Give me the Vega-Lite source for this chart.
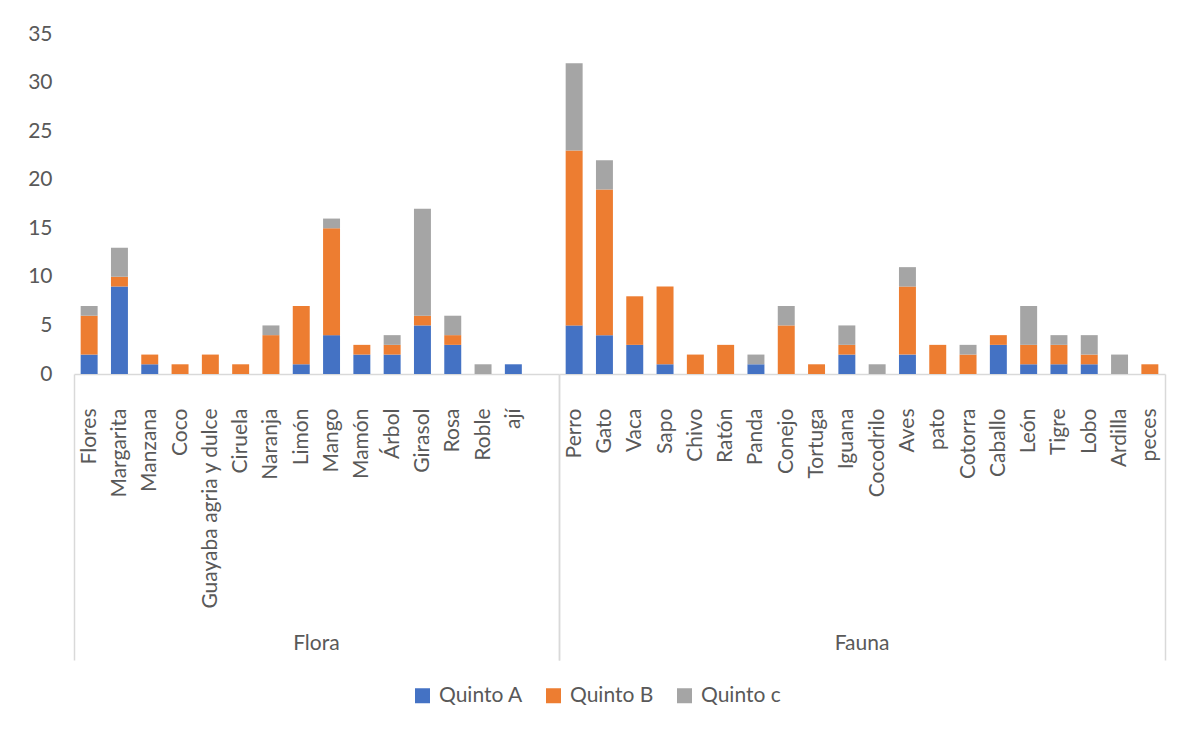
{
  "$schema": "https://vega.github.io/schema/vega-lite/v6.json",
  "background": "white",
  "padding": {"left": 27, "top": 23, "right": 30, "bottom": 10},
  "data": {
    "values": [
      {"group": "Flora", "item": "Flores", "series": "Quinto A", "count": 2},
      {"group": "Flora", "item": "Flores", "series": "Quinto B", "count": 4},
      {"group": "Flora", "item": "Flores", "series": "Quinto c", "count": 1},
      {"group": "Flora", "item": "Margarita", "series": "Quinto A", "count": 9},
      {"group": "Flora", "item": "Margarita", "series": "Quinto B", "count": 1},
      {"group": "Flora", "item": "Margarita", "series": "Quinto c", "count": 3},
      {"group": "Flora", "item": "Manzana", "series": "Quinto A", "count": 1},
      {"group": "Flora", "item": "Manzana", "series": "Quinto B", "count": 1},
      {"group": "Flora", "item": "Coco", "series": "Quinto B", "count": 1},
      {"group": "Flora", "item": "Guayaba agria y dulce", "series": "Quinto B", "count": 2},
      {"group": "Flora", "item": "Ciruela", "series": "Quinto B", "count": 1},
      {"group": "Flora", "item": "Naranja", "series": "Quinto B", "count": 4},
      {"group": "Flora", "item": "Naranja", "series": "Quinto c", "count": 1},
      {"group": "Flora", "item": "Limón", "series": "Quinto A", "count": 1},
      {"group": "Flora", "item": "Limón", "series": "Quinto B", "count": 6},
      {"group": "Flora", "item": "Mango", "series": "Quinto A", "count": 4},
      {"group": "Flora", "item": "Mango", "series": "Quinto B", "count": 11},
      {"group": "Flora", "item": "Mango", "series": "Quinto c", "count": 1},
      {"group": "Flora", "item": "Mamón", "series": "Quinto A", "count": 2},
      {"group": "Flora", "item": "Mamón", "series": "Quinto B", "count": 1},
      {"group": "Flora", "item": "Árbol", "series": "Quinto A", "count": 2},
      {"group": "Flora", "item": "Árbol", "series": "Quinto B", "count": 1},
      {"group": "Flora", "item": "Árbol", "series": "Quinto c", "count": 1},
      {"group": "Flora", "item": "Girasol", "series": "Quinto A", "count": 5},
      {"group": "Flora", "item": "Girasol", "series": "Quinto B", "count": 1},
      {"group": "Flora", "item": "Girasol", "series": "Quinto c", "count": 11},
      {"group": "Flora", "item": "Rosa", "series": "Quinto A", "count": 3},
      {"group": "Flora", "item": "Rosa", "series": "Quinto B", "count": 1},
      {"group": "Flora", "item": "Rosa", "series": "Quinto c", "count": 2},
      {"group": "Flora", "item": "Roble", "series": "Quinto c", "count": 1},
      {"group": "Flora", "item": "ají", "series": "Quinto A", "count": 1},
      {"group": "Flora", "item": " ", "series": "Quinto A", "count": 0},
      {"group": "Fauna", "item": "Perro", "series": "Quinto A", "count": 5},
      {"group": "Fauna", "item": "Perro", "series": "Quinto B", "count": 18},
      {"group": "Fauna", "item": "Perro", "series": "Quinto c", "count": 9},
      {"group": "Fauna", "item": "Gato", "series": "Quinto A", "count": 4},
      {"group": "Fauna", "item": "Gato", "series": "Quinto B", "count": 15},
      {"group": "Fauna", "item": "Gato", "series": "Quinto c", "count": 3},
      {"group": "Fauna", "item": "Vaca", "series": "Quinto A", "count": 3},
      {"group": "Fauna", "item": "Vaca", "series": "Quinto B", "count": 5},
      {"group": "Fauna", "item": "Sapo", "series": "Quinto A", "count": 1},
      {"group": "Fauna", "item": "Sapo", "series": "Quinto B", "count": 8},
      {"group": "Fauna", "item": "Chivo", "series": "Quinto B", "count": 2},
      {"group": "Fauna", "item": "Ratón", "series": "Quinto B", "count": 3},
      {"group": "Fauna", "item": "Panda", "series": "Quinto A", "count": 1},
      {"group": "Fauna", "item": "Panda", "series": "Quinto c", "count": 1},
      {"group": "Fauna", "item": "Conejo", "series": "Quinto B", "count": 5},
      {"group": "Fauna", "item": "Conejo", "series": "Quinto c", "count": 2},
      {"group": "Fauna", "item": "Tortuga", "series": "Quinto B", "count": 1},
      {"group": "Fauna", "item": "Iguana", "series": "Quinto A", "count": 2},
      {"group": "Fauna", "item": "Iguana", "series": "Quinto B", "count": 1},
      {"group": "Fauna", "item": "Iguana", "series": "Quinto c", "count": 2},
      {"group": "Fauna", "item": "Cocodrilo", "series": "Quinto c", "count": 1},
      {"group": "Fauna", "item": "Aves", "series": "Quinto A", "count": 2},
      {"group": "Fauna", "item": "Aves", "series": "Quinto B", "count": 7},
      {"group": "Fauna", "item": "Aves", "series": "Quinto c", "count": 2},
      {"group": "Fauna", "item": "pato", "series": "Quinto B", "count": 3},
      {"group": "Fauna", "item": "Cotorra", "series": "Quinto B", "count": 2},
      {"group": "Fauna", "item": "Cotorra", "series": "Quinto c", "count": 1},
      {"group": "Fauna", "item": "Caballo", "series": "Quinto A", "count": 3},
      {"group": "Fauna", "item": "Caballo", "series": "Quinto B", "count": 1},
      {"group": "Fauna", "item": "León", "series": "Quinto A", "count": 1},
      {"group": "Fauna", "item": "León", "series": "Quinto B", "count": 2},
      {"group": "Fauna", "item": "León", "series": "Quinto c", "count": 4},
      {"group": "Fauna", "item": "Tigre", "series": "Quinto A", "count": 1},
      {"group": "Fauna", "item": "Tigre", "series": "Quinto B", "count": 2},
      {"group": "Fauna", "item": "Tigre", "series": "Quinto c", "count": 1},
      {"group": "Fauna", "item": "Lobo", "series": "Quinto A", "count": 1},
      {"group": "Fauna", "item": "Lobo", "series": "Quinto B", "count": 1},
      {"group": "Fauna", "item": "Lobo", "series": "Quinto c", "count": 2},
      {"group": "Fauna", "item": "Ardilla", "series": "Quinto c", "count": 2},
      {"group": "Fauna", "item": "peces", "series": "Quinto B", "count": 1}
    ]
  },
  "facet": {
    "column": {
      "field": "group",
      "type": "nominal",
      "sort": ["Flora", "Fauna"],
      "header": {
        "title": null,
        "labelOrient": "bottom",
        "labelFont": "Lato",
        "labelFontSize": 21,
        "labelColor": "#595959",
        "labelPadding": 259
      }
    }
  },
  "spacing": 0,
  "bounds": "flush",
  "resolve": {"scale": {"x": "independent"}},
  "spec": {
    "width": {"step": 30.3},
    "height": 340,
    "mark": {"type": "bar", "width": {"band": 0.56}},
    "encoding": {
      "x": {
        "field": "item",
        "type": "nominal",
        "sort": null,
        "scale": {"paddingInner": 0, "paddingOuter": 0},
        "axis": {
          "title": null,
          "labelAngle": 270,
          "labelFont": "Lato",
          "labelFontSize": 21,
          "labelColor": "#595959",
          "labelPadding": -252,
          "labelOverlap": false,
          "labelLimit": 400,
          "tickBand": "extent",
          "tickSize": 286,
          "tickWidth": 1.5,
          "tickColor": {
            "condition": {"test": "datum.extra || datum.value === ' ' || datum.value === 'peces'", "value": "#d9d9d9"},
            "value": "rgba(0,0,0,0)"
          },
          "domainColor": "#d9d9d9",
          "domainWidth": 1.5
        }
      },
      "y": {
        "field": "count",
        "type": "quantitative",
        "stack": "zero",
        "scale": {"domain": [0, 35]},
        "axis": {
          "title": null,
          "values": [0, 5, 10, 15, 20, 25, 30, 35],
          "domain": false,
          "ticks": false,
          "grid": false,
          "labelFont": "Lato",
          "labelFontSize": 21,
          "labelColor": "#595959",
          "labelPadding": 22
        }
      },
      "color": {
        "field": "series",
        "type": "nominal",
        "scale": {
          "domain": ["Quinto A", "Quinto B", "Quinto c"],
          "range": ["#4472C4", "#ED7D31", "#A5A5A5"]
        },
        "legend": {
          "title": null,
          "orient": "bottom",
          "direction": "horizontal",
          "symbolType": "square",
          "symbolSize": 225,
          "symbolStrokeWidth": 0,
          "labelFont": "Lato",
          "labelFontSize": 21,
          "labelColor": "#595959",
          "labelOffset": 6,
          "columnPadding": 20,
          "offset": 24
        }
      },
      "order": {"field": "series", "sort": "ascending"}
    }
  },
  "config": {
    "view": {"stroke": null},
    "legend": {"layout": {"bottom": {"anchor": "middle"}}}
  }
}
